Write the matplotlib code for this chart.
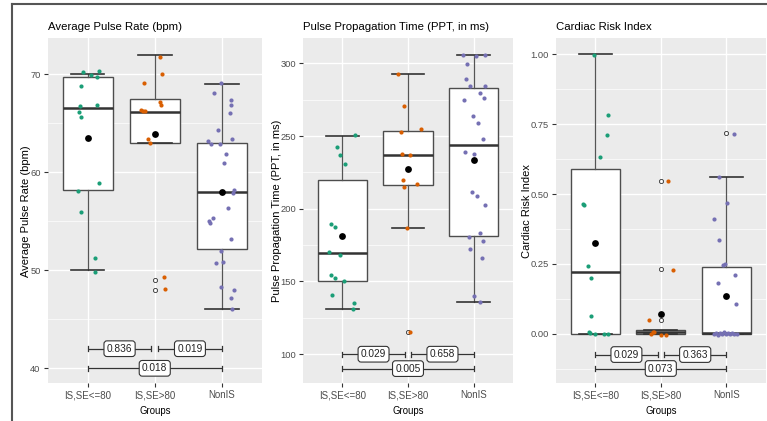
import numpy as np
import matplotlib
matplotlib.use('Agg')
import matplotlib.pyplot as plt
from matplotlib import font_manager
from matplotlib.lines import Line2D
from matplotlib.ticker import MultipleLocator, FormatStrFormatter

# fonts: the reference text looks condensed, use the narrow face where we have it
names = {f.name for f in font_manager.fontManager.ttflist}
has_narrow = 'Liberation Sans Narrow' in names
narrow = 'Liberation Sans Narrow' if has_narrow else 'Liberation Sans'
shrink = 1.0 if has_narrow else 0.82
regular = 'Liberation Sans'

groups = ['IS,SE<=80', 'IS,SE>80', 'NonIS']
colors = ['#1B9E77', '#D95F02', '#7570B3']

# ---- Average pulse rate (bpm) ----
pr_q1 = [58.2, 63.0, 52.2]
pr_med = [66.6, 66.1, 58.0]
pr_q3 = [69.7, 67.5, 63.0]
pr_lo = [50.0, 63.0, 46.0]
pr_hi = [70.0, 72.0, 69.0]
pr_mean = [63.5, 63.9, 58.0]
pr_out = [[], [49.0, 48.0], []]
pr_y1 = [70.27, 69.93, 70.37, 69.72, 68.8, 66.77, 66.87, 66.12, 65.61, 58.94, 58.09, 55.92, 51.29, 49.86]
pr_j1 = [-0.075, 0.05, 0.17, 0.14, -0.1, -0.115, 0.14, -0.13, -0.095, 0.17, -0.14, -0.095, 0.11, 0.11]
pr_y2 = [71.73, 70.0, 69.08, 67.2, 66.87, 66.36, 66.29, 66.22, 63.4, 63.02, 49.28, 48.12]
pr_j2 = [0.075, 0.11, -0.165, 0.075, 0.1, -0.2, -0.17, -0.14, -0.105, -0.07, 0.145, 0.155]
pr_y3 = [69.08, 68.06, 67.38, 66.87, 66.02, 64.32, 63.22, 62.92, 62.92, 63.37, 61.84, 60.98, 58.19,
         57.85, 56.39, 55.34, 55.03, 54.8, 53.2, 52.0, 50.78, 50.88, 48.27, 48.02, 47.17, 46.08]
pr_j3 = [-0.005, -0.12, 0.135, 0.135, 0.125, -0.055, -0.205, -0.165, -0.025, 0.145, 0.07, 0.03, 0.18,
         0.17, 0.09, -0.13, -0.19, -0.175, 0.135, -0.015, -0.09, 0.02, -0.015, 0.185, 0.135, 0.145]
pr_pvals = ['0.836', '0.019', '0.018']
pr_pval_y = [42.0, 42.0, 40.0]

# ---- Pulse propagation time (ms) ----
ppt_q1 = [150.4, 216.0, 181.0]
ppt_med = [169.7, 237.1, 243.8]
ppt_q3 = [219.9, 253.4, 283.2]
ppt_lo = [131.1, 186.5, 135.8]
ppt_hi = [250.0, 292.4, 305.7]
ppt_mean = [181.6, 227.3, 233.2]
ppt_out = [[], [115.3], []]
ppt_y1 = [250.4, 242.4, 236.7, 230.7, 189.6, 187.2, 170.4, 167.9, 154.3, 152.5, 150.0, 140.8, 135.1, 131.1]
ppt_j1 = [0.185, -0.085, -0.035, 0.035, -0.175, -0.12, -0.205, -0.03, -0.175, -0.11, 0.03, -0.155, 0.18, 0.165]
ppt_y2 = [292.4, 270.8, 252.7, 254.6, 237.4, 236.7, 219.5, 214.9, 216.9, 186.5, 115.3]
ppt_j2 = [-0.15, -0.06, -0.11, 0.2, -0.09, 0.035, -0.07, -0.06, 0.135, -0.015, 0.03]
ppt_y3 = [305.7, 304.8, 305.7, 299.5, 289.4, 284.4, 284.4, 279.8, 275.9, 274.5, 264.0, 258.9, 248.1,
          239.2, 237.6, 211.4, 208.7, 202.7, 183.4, 180.3, 178.0, 172.4, 166.2, 139.9, 135.8]
ppt_j3 = [-0.16, 0.035, 0.17, -0.1, -0.11, -0.06, 0.17, 0.1, 0.155, -0.15, -0.01, 0.06, 0.14,
          -0.135, 0.005, -0.025, 0.045, 0.18, 0.09, -0.07, 0.145, -0.05, 0.12, 0.01, 0.09]
ppt_pvals = ['0.029', '0.658', '0.005']
ppt_pval_y = [100.0, 100.0, 90.1]

# ---- Cardiac risk index ----
cri_q1 = [0.0, 0.0, 0.0]
cri_med = [0.222, 0.004, 0.003]
cri_q3 = [0.588, 0.012, 0.24]
cri_lo = [0.0, 0.0, 0.0]
cri_hi = [1.0, 0.012, 0.561]
cri_mean = [0.325, 0.069, 0.135]
cri_out = [[], [0.048, 0.231, 0.548], [0.719]]
cri_y1 = [0.998, 0.784, 0.713, 0.631, 0.463, 0.459, 0.242, 0.198, 0.062, 0.004, 0.003, -0.003, 0.0, 0.0]
cri_j1 = [-0.015, 0.19, 0.175, 0.07, -0.19, -0.165, -0.115, -0.065, -0.065, -0.09, -0.075, 0.0, 0.13, 0.19]
cri_y2 = [0.547, 0.228, 0.05, -0.001, 0.004, 0.005, -0.004, -0.004]
cri_j2 = [0.11, 0.18, -0.18, -0.148, -0.122, -0.098, 0.0, 0.076]
cri_y3 = [0.715, 0.561, 0.468, 0.409, 0.337, 0.247, 0.25, 0.21, 0.181, 0.105,
          -0.003, 0.002, -0.004, 0.003, 0.0, 0.004, -0.002, 0.002, -0.003, 0.001, -0.002, 0.0]
cri_j3 = [0.113, -0.11, 0.015, -0.19, -0.115, -0.045, -0.025, 0.133, -0.127, 0.153,
          -0.19, -0.155, -0.125, -0.095, -0.065, -0.035, -0.005, 0.025, 0.06, 0.09, 0.125, 0.16]
cri_pvals = ['0.029', '0.363', '0.073']
cri_pval_y = [-0.075, -0.075, -0.125]

W, H = 767, 421
fig = plt.figure(figsize=(W / 100, H / 100), dpi=100)


def px_axes(left, right, top, bottom):
    return fig.add_axes([left / W, (H - bottom) / H, (right - left) / W, (bottom - top) / H])


def draw_panel(ax, title, ylabel, q1, med, q3, lo, hi, means, outs, ys, jits,
               pvals, pval_y, ylim, major, minor, fmt=None):
    ax.set_facecolor('#EBEBEB')
    for s in ax.spines.values():
        s.set_visible(False)
    ax.set_xlim(0.4, 3.6)
    ax.set_ylim(*ylim)
    ax.yaxis.set_major_locator(MultipleLocator(major))
    ax.yaxis.set_minor_locator(MultipleLocator(minor))
    if fmt:
        ax.yaxis.set_major_formatter(FormatStrFormatter(fmt))
    ax.set_xticks([1, 2, 3])
    ax.set_xticklabels(groups, fontfamily=regular, fontsize=7)
    ax.grid(True, which='major', color='white', lw=1.0, zorder=0)
    ax.grid(True, which='minor', axis='y', color='white', lw=0.5, zorder=0)
    ax.set_axisbelow(True)
    ax.tick_params(which='major', length=3, width=0.8, color='#333333',
                   labelcolor='#4D4D4D', pad=2)
    ax.tick_params(which='minor', length=0)
    for lab in ax.get_yticklabels():
        lab.set_fontfamily(narrow)
        lab.set_fontsize(8.2 * shrink)

    stats = []
    for i in range(3):
        stats.append(dict(q1=q1[i], med=med[i], q3=q3[i], whislo=lo[i], whishi=hi[i],
                          mean=means[i], fliers=outs[i]))
    ax.bxp(stats, positions=[1, 2, 3], widths=0.75, capwidths=0.5, patch_artist=True,
           showmeans=False, manage_ticks=False, zorder=2,
           boxprops=dict(facecolor='white', edgecolor='#4D4D4D', lw=1.0),
           medianprops=dict(color='#333333', lw=1.8),
           whiskerprops=dict(color='#555555', lw=0.9),
           capprops=dict(color='#333333', lw=1.2),
           flierprops=dict(marker='o', markerfacecolor='none', markeredgecolor='#333333',
                           markersize=3, markeredgewidth=0.6))

    for i in range(3):
        ax.scatter(np.array(jits[i]) + (i + 1), ys[i], s=9, color=colors[i], lw=0, zorder=3)
    ax.scatter([1, 2, 3], means, s=24, color='black', lw=0, zorder=4)

    # p-value brackets
    tick = 2.5 * (ylim[1] - ylim[0]) / 345
    pairs = [(1, 1.95), (2.05, 3), (1, 3)]
    for (x1, x2), lab, yv in zip(pairs, pvals, pval_y):
        ax.plot([x1, x2], [yv, yv], color='#333333', lw=0.9, zorder=3, solid_capstyle='butt')
        for xe in (x1, x2):
            ax.plot([xe, xe], [yv - tick, yv + tick], color='#333333', lw=0.9, zorder=3)
        ax.text((x1 + x2) / 2, yv, lab, ha='center', va='center', fontsize=7.3,
                fontfamily=regular, color='#222222', zorder=5,
                bbox=dict(boxstyle='round,pad=0.28,rounding_size=0.3', fc='white',
                          ec='#333333', lw=0.8))

    ax.set_title(title, loc='left', fontfamily=narrow, fontsize=10 * shrink, pad=6)
    ax.set_ylabel(ylabel, fontfamily=regular, fontsize=8, labelpad=-1)
    ax.set_xlabel('Groups', fontfamily=narrow, fontsize=8.5 * shrink, labelpad=4)


ax1 = px_axes(47.5, 262, 38.3, 383.3)
draw_panel(ax1, 'Average Pulse Rate (bpm)', 'Average Pulse Rate (bpm)',
           pr_q1, pr_med, pr_q3, pr_lo, pr_hi, pr_mean, pr_out,
           [pr_y1, pr_y2, pr_y3], [pr_j1, pr_j2, pr_j3],
           pr_pvals, pr_pval_y, (38.47, 73.67), 10, 5)

ax2 = px_axes(303, 513, 38.3, 383.3)
draw_panel(ax2, 'Pulse Propagation Time (PPT, in ms)', 'Pulse Propagation Time (PPT, in ms)',
           ppt_q1, ppt_med, ppt_q3, ppt_lo, ppt_hi, ppt_mean, ppt_out,
           [ppt_y1, ppt_y2, ppt_y3], [ppt_j1, ppt_j2, ppt_j3],
           ppt_pvals, ppt_pval_y, (80.0, 317.2), 50, 25)

ax3 = px_axes(556, 765.6, 38.3, 383.3)
draw_panel(ax3, 'Cardiac Risk Index', 'Cardiac Risk Index',
           cri_q1, cri_med, cri_q3, cri_lo, cri_hi, cri_mean, cri_out,
           [cri_y1, cri_y2, cri_y3], [cri_j1, cri_j2, cri_j3],
           cri_pvals, cri_pval_y, (-0.178, 1.058), 0.25, 0.125, fmt='%.2f')

# outer frame of the image (left and top edges)
fig.add_artist(Line2D([12 / W, 12 / W], [0, 1 - 4 / H], color='#555555', lw=1.5))
fig.add_artist(Line2D([12 / W, 1], [1 - 4 / H, 1 - 4 / H], color='#555555', lw=1.5))

fig.savefig('out.png', dpi=100, facecolor='white')
